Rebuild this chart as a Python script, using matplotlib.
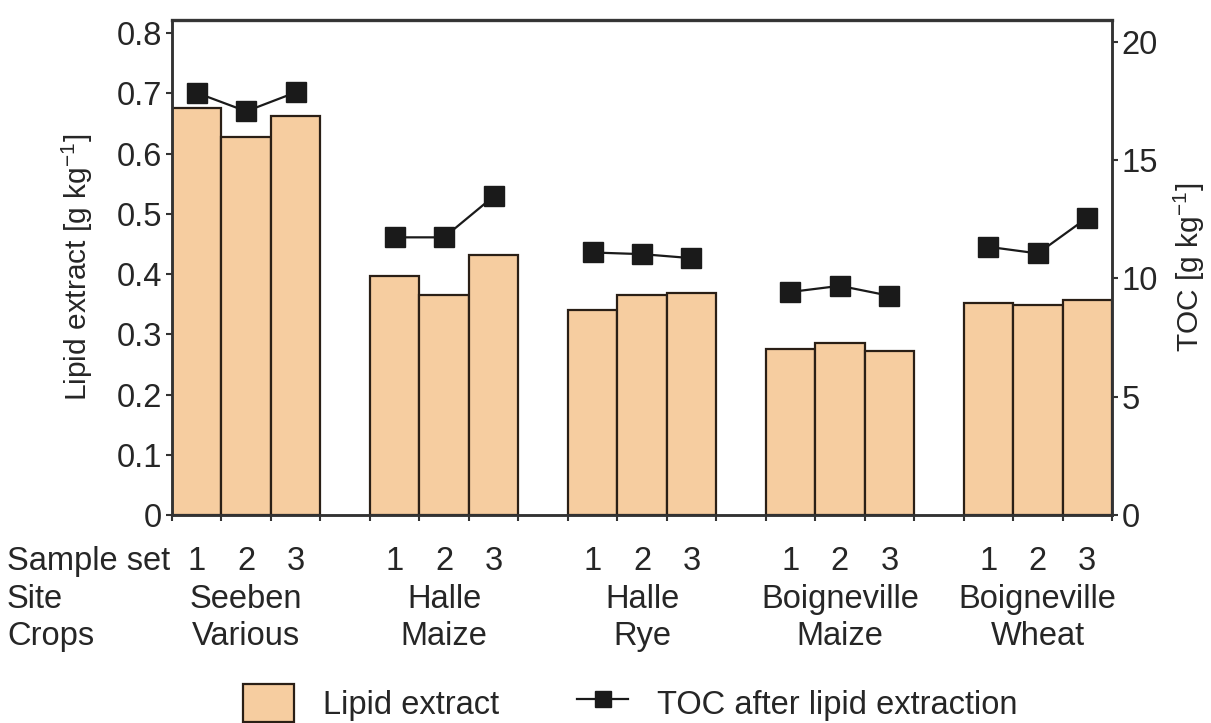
import numpy as np
import matplotlib
matplotlib.use("Agg")
import matplotlib.pyplot as plt
from matplotlib.patches import Patch
from matplotlib.lines import Line2D
from matplotlib.transforms import blended_transform_factory

plt.rcParams['font.family'] = ['Liberation Sans', 'DejaVu Sans']
plt.rcParams['mathtext.fontset'] = 'custom'
plt.rcParams['mathtext.rm'] = 'Liberation Sans'
plt.rcParams['mathtext.it'] = 'Liberation Sans:italic'

# sample sets per site/crop combination
sites = ["Seeben", "Halle", "Halle", "Boigneville", "Boigneville"]
crops = ["Various", "Maize", "Rye", "Maize", "Wheat"]
sample_sets = ["1", "2", "3"]

# lipid extract [g kg-1], one row per site
lipid_seeben = [0.676, 0.628, 0.663]
lipid_halle_maize = [0.397, 0.365, 0.431]
lipid_halle_rye = [0.341, 0.365, 0.368]
lipid_boig_maize = [0.275, 0.286, 0.273]
lipid_boig_wheat = [0.352, 0.349, 0.357]

# TOC after lipid extraction [g kg-1]
toc_seeben = [17.85, 17.07, 17.87]
toc_halle_maize = [11.74, 11.74, 13.47]
toc_halle_rye = [11.10, 11.03, 10.86]
toc_boig_maize = [9.43, 9.69, 9.27]
toc_boig_wheat = [11.34, 11.06, 12.57]

lipid = [lipid_seeben, lipid_halle_maize, lipid_halle_rye, lipid_boig_maize, lipid_boig_wheat]
toc = [toc_seeben, toc_halle_maize, toc_halle_rye, toc_boig_maize, toc_boig_wheat]

bar_color = '#F6CDA0'
edge_color = '#2a1f16'
text_color = '#262626'
spine_color = '#333333'

W, H = 1211, 723
fig = plt.figure(figsize=(W / 100, H / 100), dpi=100)
ax = fig.add_axes([172 / W, 1 - 515 / H, 940 / W, 495 / H])
ax2 = ax.twinx()

n_sets = len(sample_sets)
group_step = n_sets + 1
for g in range(len(sites)):
    xs = g * group_step + np.arange(n_sets) + 0.5
    ax.bar(xs, lipid[g], width=1.0, color=bar_color, edgecolor=edge_color,
           linewidth=1.6, zorder=2)
    ax2.plot(xs, toc[g], color='#1a1a1a', linewidth=1.6, marker='s',
             markersize=14, markerfacecolor='#1a1a1a', markeredgecolor='#1a1a1a',
             zorder=3)

n_total = len(sites) * group_step - 1
ax.set_xlim(0, n_total)
ax.set_ylim(0, 0.822)
ax2.set_ylim(0, 20.93)

ax.set_xticks(np.arange(0, n_total + 1))
ax.set_xticklabels([])
ax.set_yticks(np.arange(0, 0.81, 0.1))
ax.set_yticklabels(['0'] + [f'{v:.1f}' for v in np.arange(0.1, 0.81, 0.1)])
ax2.set_yticks([0, 5, 10, 15, 20])

for a in (ax, ax2):
    a.tick_params(axis='both', direction='out', length=4, width=1.5,
                  color=spine_color, labelsize=23.5, labelcolor=text_color, pad=3)
    for s in a.spines.values():
        s.set_color(spine_color)
        s.set_linewidth(1.8)
ax.spines['top'].set_linewidth(2.4)
ax.spines['top'].set_color('#444444')

ax.set_ylabel('Lipid extract [g kg$^{\\mathregular{-1}}$]', fontsize=21.5,
              color=text_color, labelpad=16)
ax2.set_ylabel('TOC [g kg$^{\\mathregular{-1}}$]', fontsize=21.5,
               color=text_color, labelpad=10)

# category rows under the axis
trans = blended_transform_factory(ax.transData, fig.transFigure)
row_y = [1 - 570 / H, 1 - 608 / H, 1 - 645 / H]
row_names = ["Sample set", "Site", "Crops"]
for name, y in zip(row_names, row_y):
    fig.text(7 / W, y, name, fontsize=23.5, color=text_color, va='baseline', ha='left')
for g in range(len(sites)):
    for i, s in enumerate(sample_sets):
        ax.text(g * group_step + i + 0.5, row_y[0], s, transform=trans,
                fontsize=23.5, color=text_color, ha='center', va='baseline')
    center = g * group_step + n_sets / 2
    ax.text(center, row_y[1], sites[g], transform=trans, fontsize=23.5,
            color=text_color, ha='center', va='baseline')
    ax.text(center, row_y[2], crops[g], transform=trans, fontsize=23.5,
            color=text_color, ha='center', va='baseline')

handles = [
    Patch(facecolor=bar_color, edgecolor=edge_color, linewidth=1.6),
    Line2D([], [], color='#1a1a1a', linewidth=1.6, marker='s', markersize=11),
]
fig.legend(handles, ['Lipid extract', 'TOC after lipid extraction'], ncol=2,
           loc='lower left', bbox_to_anchor=(243 / W, 1 / H),
           frameon=False, fontsize=23.5, handlelength=1.55, handleheight=1.4,
           handletextpad=0.9, columnspacing=2.4, borderpad=0, borderaxespad=0,
           labelcolor=text_color)

fig.savefig('out.png', dpi=100)
